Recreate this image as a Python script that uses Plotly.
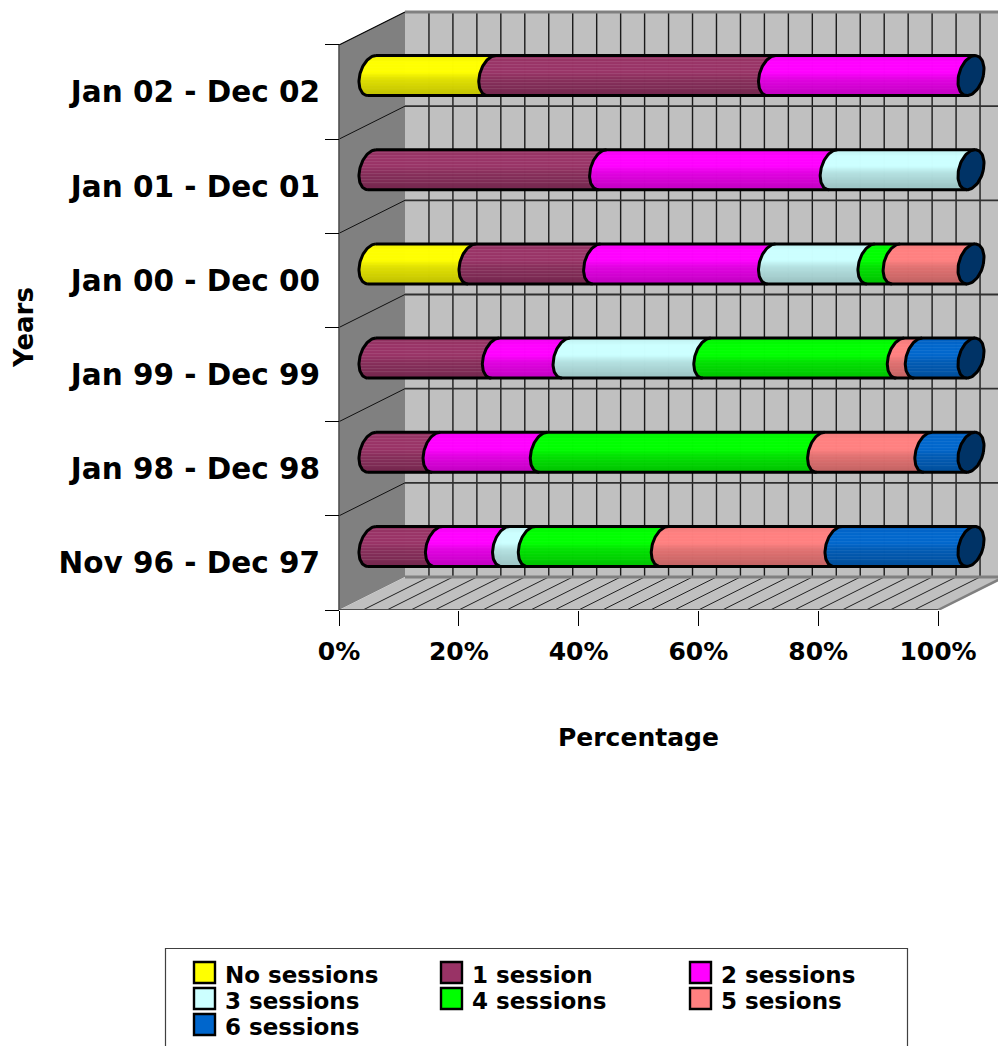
import math
import plotly.graph_objects as go

# Rows run bottom to top on the category axis.
years = ["Nov 96 - Dec 97", "Jan 98 - Dec 98", "Jan 99 - Dec 99",
         "Jan 00 - Dec 00", "Jan 01 - Dec 01", "Jan 02 - Dec 02"]

no_sessions = [0, 0, 0, 16.7, 0, 20.0]
one_session = [11.1, 10.7, 20.6, 20.8, 38.5, 46.7]
two_sessions = [11.2, 17.9, 11.8, 29.2, 38.5, 33.3]
three_sessions = [4.3, 0, 23.5, 16.6, 23.0, 0]
four_sessions = [22.2, 46.3, 32.3, 4.2, 0, 0]
five_sessions = [29.0, 17.9, 3.0, 12.5, 0, 0]
six_sessions = [22.3, 7.2, 8.8, 0, 0, 0]

series_names = ["No sessions", "1 session", "2 sessions", "3 sessions",
                "4 sessions", "5 sesions", "6 sessions"]
series_values = [no_sessions, one_session, two_sessions, three_sessions,
                 four_sessions, five_sessions, six_sessions]
series_colors = ["#FFFF00", "#993366", "#FF00FF", "#CCFFFF",
                 "#00FF00", "#FF8080", "#0066CC"]
stripe_strength = [0.02, 0.10, 0.03, 0.01, 0.03, 0.03, 0.07]
cap_color = "#003366"

percent_ticks = [0, 20, 40, 60, 80, 100]
percent_labels = ["0%", "20%", "40%", "60%", "80%", "100%"]

# Canvas and axis scales, in pixels.
WIDTH, HEIGHT = 998, 1046
X_ZERO, X_PER_PCT = 339, 5.99
Y_BASE, Y_PER_ROW = 610, 94.17
FONT = "DejaVu Sans"

# Oblique projection of the box: a point at depth 1 is on the back wall.
DEPTH_X = 66 / X_PER_PCT
DEPTH_Y = 33 / Y_PER_ROW


def project(value, row, depth):
    return value + depth * DEPTH_X, row + depth * DEPTH_Y


# Tilted ellipse that forms the cross-section of each cylinder, in pixels.
ELL_A, ELL_B, ELL_C = 12.4, 4.0, 20.0
N_BANDS = 40


def shade(s):
    """Brightness across the cylinder, s runs from +1 (top) to -1 (bottom)."""
    stops = [(1.0, 0.93), (0.65, 1.0), (0.15, 1.0), (-0.2, 0.88), (-1.0, 0.76)]
    for (s0, f0), (s1, f1) in zip(stops, stops[1:]):
        if s <= s0 and s >= s1:
            return f0 + (f1 - f0) * (s0 - s) / (s0 - s1)
    return stops[-1][1]


def band_color(hex_color, s, index, stripe):
    rgb = [int(hex_color[i:i + 2], 16) for i in (1, 3, 5)]
    f = shade(s)
    mix = stripe if index % 3 == 0 and s > -0.75 else 0.0
    out = [min(255, c * f) * (1 - mix) + 255 * mix for c in rgb]
    return "rgb(%d,%d,%d)" % tuple(round(c) for c in out)


def left_edge(s):
    return (ELL_B * s - ELL_A * math.sqrt(max(0.0, 1 - s * s))) / X_PER_PCT


def ellipse_points(center, row, t_start, t_end, steps=48):
    cx, cy = project(center, row + 0.5, 0.5)
    xs, ys = [], []
    for i in range(steps + 1):
        t = t_start + (t_end - t_start) * i / steps
        xs.append(cx + (ELL_A * math.cos(t) + ELL_B * math.sin(t)) / X_PER_PCT)
        ys.append(cy + ELL_C * math.sin(t) / Y_PER_ROW)
    return xs, ys


fig = go.Figure()

# One bar trace per series; every cylinder is a stack of one-pixel bands whose
# ends follow the ellipse, so the boundaries between segments look curved.
band_height = (2 * ELL_C / N_BANDS) / Y_PER_ROW
for k, values in enumerate(series_values):
    ys, bases, lengths, colors = [], [], [], []
    for r in range(len(years)):
        if values[r] <= 0:
            continue
        start = sum(series_values[j][r] for j in range(k))
        _, cy = project(0, r + 0.5, 0.5)
        cx0 = project(start, r + 0.5, 0.5)[0]
        for b in range(N_BANDS):
            s = 1 - (b + 0.5) * 2 / N_BANDS
            ys.append(cy + s * ELL_C / Y_PER_ROW)
            bases.append(cx0 + left_edge(s))
            lengths.append(values[r])
            colors.append(band_color(series_colors[k], s, b, stripe_strength[k]))
    fig.add_trace(go.Bar(
        orientation="h", name=series_names[k], y=ys, x=lengths, base=bases,
        width=band_height, showlegend=False, hoverinfo="skip",
        marker=dict(color=colors, opacity=0.9, line=dict(width=0)),
    ))

# Black outline: top and bottom edges plus the curve at each segment start.
line_x, line_y = [], []
for r in range(len(years)):
    for s in (1, -1):
        x0, y0 = project(0 + ELL_B * s / X_PER_PCT, r + 0.5, 0.5)
        x1, _ = project(100 + ELL_B * s / X_PER_PCT, r + 0.5, 0.5)
        yy = y0 + s * ELL_C / Y_PER_ROW
        line_x += [x0, x1, None]
        line_y += [yy, yy, None]
    start = 0.0
    for values in series_values:
        if values[r] > 0:
            xs, ys = ellipse_points(start, r, math.pi / 2, 3 * math.pi / 2)
            line_x += xs + [None]
            line_y += ys + [None]
            start += values[r]
fig.add_trace(go.Scatter(x=line_x, y=line_y, mode="lines", showlegend=False,
                         hoverinfo="skip", line=dict(color="black", width=3)))

# Far-end caps of the cylinders.
cap_x, cap_y = [], []
for r in range(len(years)):
    xs, ys = ellipse_points(100, r, 0, 2 * math.pi, 72)
    cap_x += xs + [None]
    cap_y += ys + [None]
fig.add_trace(go.Scatter(x=cap_x, y=cap_y, mode="lines", fill="toself",
                         fillcolor=cap_color, showlegend=False, hoverinfo="skip",
                         line=dict(color="black", width=3)))

# Box of the chart: back wall, side wall and floor with their grids.
shapes = []


def polygon(points, fill, line_color=None, line_width=0):
    path = "M " + " L ".join(f"{x},{y}" for x, y in points) + " Z"
    shapes.append(dict(type="path", xref="x", yref="y", path=path, layer="below",
                       fillcolor=fill, line=dict(color=line_color or fill, width=line_width)))


def segment(p0, p1, color, width):
    shapes.append(dict(type="line", xref="x", yref="y", layer="below",
                       x0=p0[0], y0=p0[1], x1=p1[0], y1=p1[1],
                       line=dict(color=color, width=width)))


n_rows = len(years)
polygon([project(0, 0, 1), project(100, 0, 1), project(100, n_rows, 1), project(0, n_rows, 1)], "#C0C0C0")
polygon([project(0, 0, 0), project(0, 0, 1), project(0, n_rows, 1), project(0, n_rows, 0)], "#808080")
polygon([project(0, 0, 0), project(100, 0, 0), project(100, 0, 1), project(0, 0, 1)], "#C0C0C0")

for v in range(4, 100, 4):
    segment(project(v, 0, 1), project(v, n_rows, 1), "#1a1a1a", 1.4)
    segment(project(v, 0, 0), project(v, 0, 1), "#202020", 1)
for r in range(1, n_rows):
    segment(project(0, r, 1), project(100, r, 1), "#303030", 1.8)
    segment(project(0, r, 0), project(0, r, 1), "#101010", 1)
segment(project(0, n_rows, 0), project(0, n_rows, 1), "#000000", 1.2)
segment(project(0, n_rows, 1), project(100, n_rows, 1), "#808080", 3)
segment(project(0, 0, 1), project(100, 0, 1), "#808080", 3)
segment(project(100, 0, 0), project(100, 0, 1), "#808080", 2.5)
segment(project(0, 0, 0), project(100, 0, 0), "#505050", 2)
segment(project(0, 0, 0), project(0, n_rows, 0), "#505050", 1.6)

# Legend built in page pixels, since three evenly spaced columns are required.
plot_height = Y_BASE


def page_x(px):
    return px / WIDTH


def page_y(py):
    return (plot_height - py) / plot_height


legend_cols = [194, 441, 690]
legend_rows = [962, 988, 1014]
shapes.append(dict(type="rect", xref="paper", yref="paper", layer="above",
                   x0=page_x(165.5), x1=page_x(907.5), y0=page_y(1070), y1=page_y(948.5),
                   fillcolor="white", line=dict(color="#404040", width=1.2)))
annotations = []
for i, (name, color) in enumerate(zip(series_names, series_colors)):
    col, row = i % 3, i // 3
    left, top = legend_cols[col], legend_rows[row]
    shapes.append(dict(type="rect", xref="paper", yref="paper", layer="above",
                       x0=page_x(left), x1=page_x(left + 21), y0=page_y(top + 21), y1=page_y(top),
                       fillcolor=color, line=dict(color="black", width=2.4)))
    annotations.append(dict(xref="paper", yref="paper", x=page_x(left + 29), y=page_y(top + 13),
                            text=name, showarrow=False, xanchor="left", yanchor="middle",
                            font=dict(family=FONT, size=23, color="black", weight=700)))

annotations.append(dict(xref="paper", yref="paper", x=page_x(638), y=page_y(737),
                        text="Percentage", showarrow=False, xanchor="center", yanchor="middle",
                        font=dict(family=FONT, size=25, color="black", weight=700)))
annotations.append(dict(xref="paper", yref="paper", x=page_x(24), y=page_y(328),
                        text="Years", showarrow=False, textangle=-90, xanchor="center", yanchor="middle",
                        font=dict(family=FONT, size=26, color="black", weight=700)))

fig.update_layout(
    width=WIDTH, height=HEIGHT, barmode="overlay",
    margin=dict(l=0, r=0, t=0, b=HEIGHT - plot_height, pad=0),
    paper_bgcolor="white", plot_bgcolor="white", showlegend=False,
    shapes=shapes, annotations=annotations,
    xaxis=dict(
        range=[-X_ZERO / X_PER_PCT, (WIDTH - X_ZERO) / X_PER_PCT],
        tickmode="array", tickvals=percent_ticks, ticktext=percent_labels,
        ticks="outside", ticklen=15, tickwidth=1, tickcolor="black",
        tickfont=dict(family=FONT, size=25, color="black", weight=700),
        ticklabelstandoff=4, showgrid=False, zeroline=False, showline=False,
    ),
    yaxis=dict(
        range=[0, plot_height / Y_PER_ROW], anchor="free", position=X_ZERO / WIDTH,
        tickmode="array", tickvals=[r + 0.5 for r in range(n_rows)], ticktext=years,
        ticks="outside", ticklen=9, tickcolor="rgba(0,0,0,0)",
        tickfont=dict(family=FONT, size=29.5, color="black", weight=700),
        ticklabelstandoff=4, showgrid=False, zeroline=False, showline=False,
        minor=dict(tickmode="array", tickvals=list(range(n_rows + 1)), ticks="outside",
                   ticklen=14, tickwidth=1, tickcolor="black", showgrid=False),
    ),
)

fig.write_html("out.html", config=dict(displayModeBar=False))
